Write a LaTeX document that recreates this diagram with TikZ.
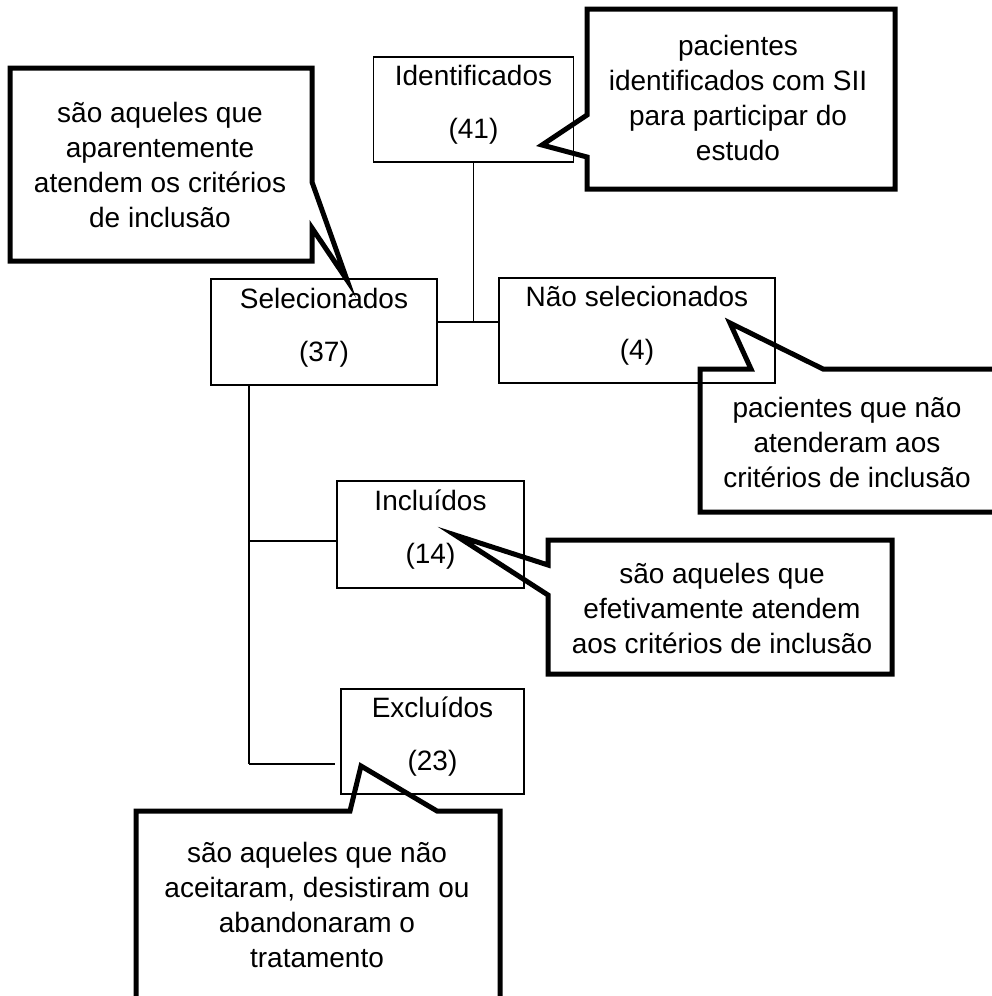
\documentclass[tikz,border=0pt]{standalone}
\usepackage{fontspec}
\setmainfont{Liberation Sans}

\begin{document}
\begin{tikzpicture}[x=1pt,y=-1pt,
    box node/.style={draw,line width=1.5pt,inner sep=0pt,align=center,text depth=15pt,font=\fontsize{28}{35}\selectfont},
    note/.style={draw,line width=5pt},
    note text/.style={align=center,font=\fontsize{28}{35}\selectfont}]
    \clip (0,0) rectangle (992,996);

    \node[box node,minimum width=200pt,minimum height=105pt] (1) at (473.5,109.5) {Identificados\\[18pt](41)};
    \node[box node,minimum width=226pt,minimum height=106pt] (2) at (324,332) {Selecionados\\[18pt](37)};
    \node[box node,minimum width=276pt,minimum height=105pt] (3) at (637,330.5) {Não selecionados\\[18pt](4)};
    \node[box node,minimum width=187pt,minimum height=107pt] (4) at (430.5,534.5) {Incluídos\\[18pt](14)};
    \node[box node,minimum width=183pt,minimum height=105pt] (5) at (432.5,741.5) {Excluídos\\[18pt](23)};

    \coordinate (j1) at (474,322);
    \coordinate (j2) at (249,764);
    \coordinate (j3) at (249,541);

    \path[line width=1.5pt]
    (1) edge (1 |- j1)
    (2.east |- j1) edge (3.west |- j1)
    (2.south -| j2) edge (j2)
    (j3) edge (4.west |- j3)
    (j2) edge[shorten >=5pt] (5.west |- j2);

    % callouts
    \draw[note] (10,68) -- (312,68) -- (312,182) -- (347,280) -- (312,228) -- (312,261) -- (10,261) -- cycle;
    \node[note text] (n2) at (160,165) {são aqueles que\\aparentemente\\atendem os critérios\\de inclusão};

    \draw[note] (587,9) -- (895,9) -- (895,189) -- (587,189) -- (587,157) -- (542,145) -- (587,115) -- cycle;
    \node[note text] (n1) at (738,98) {pacientes\\identificados com SII\\para participar do\\estudo};

    \draw[note] (700,369) -- (751,369) -- (730,323) -- (823,369) -- (1010,369) -- (1010,512) -- (700,512) -- cycle;
    \node[note text] (n3) at (847,442) {pacientes que não\\atenderam aos\\critérios de inclusão};

    \draw[note] (548,540) -- (892,540) -- (892,674) -- (548,674) -- (548,595) -- (455,535) -- (548,565) -- cycle;
    \node[note text] (n4) at (722,608) {são aqueles que\\efetivamente atendem\\aos critérios de inclusão};

    \draw[note] (136,811) -- (350,811) -- (361,766) -- (437,811) -- (500,811) -- (500,1010) -- (136,1010) -- cycle;
    \node[note text] (n5) at (317,905) {são aqueles que não\\aceitaram, desistiram ou\\abandonaram o\\tratamento};
  \end{tikzpicture}
\end{document}
